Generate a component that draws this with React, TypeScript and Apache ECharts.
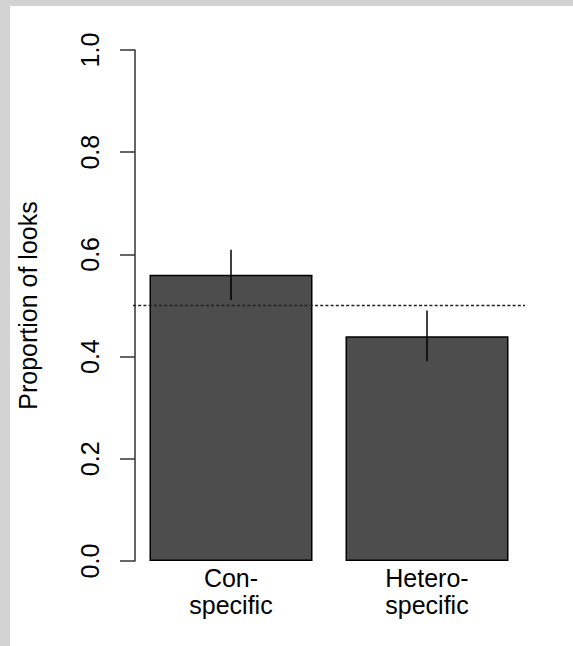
import React, { useEffect, useRef } from "react";
import * as echarts from "echarts";

const categories = ["Con-\nspecific", "Hetero-\nspecific"];
const proportions = [0.56, 0.44];
const lowerBounds = [0.511, 0.391];
const upperBounds = [0.609, 0.49];
const referenceLevel = 0.5;
const yTicks = { min: 0, max: 1, interval: 0.2 };

const FONT = "'Liberation Sans', Arial, Helvetica, sans-serif";

export default function App() {
  const ref = useRef<HTMLDivElement>(null);
  useEffect(() => {
    if (!ref.current) return;
    const chart = echarts.init(ref.current, null, { renderer: "svg" });
    chart.setOption({
      animation: false,
      backgroundColor: "transparent",
      grid: { left: 133, right: 48, top: 50, bottom: 85 },
      xAxis: {
        type: "category",
        data: categories,
        axisLine: { show: false },
        axisTick: { show: false },
        splitLine: { show: false },
        axisLabel: {
          color: "#000",
          fontSize: 25,
          fontFamily: FONT,
          lineHeight: 27,
          margin: 3,
          interval: 0,
        },
      },
      yAxis: {
        type: "value",
        min: yTicks.min,
        max: yTicks.max,
        interval: yTicks.interval,
        offset: -2,
        name: "Proportion of looks",
        nameLocation: "middle",
        nameRotate: 90,
        nameGap: 95,
        nameTextStyle: { color: "#000", fontSize: 25, fontFamily: FONT, lineHeight: 25 },
        splitLine: { show: false },
        axisLine: { show: true, lineStyle: { color: "#333", width: 1.5 } },
        axisTick: { show: true, length: 15, lineStyle: { color: "#333", width: 1.5 } },
        axisLabel: {
          rotate: 90,
          margin: 33,
          color: "#000",
          fontSize: 25,
          fontFamily: FONT,
          lineHeight: 25,
          formatter: (v: number) => v.toFixed(1),
        },
      },
      series: [
        {
          type: "bar",
          data: proportions,
          barWidth: 163,
          itemStyle: { color: "#4d4d4d", borderColor: "#000", borderWidth: 1.5 },
          z: 2,
          markLine: {
            silent: true,
            symbol: "none",
            label: { show: false },
            lineStyle: { color: "#222", width: 1.3, type: [3, 2.2] },
            data: [{ yAxis: referenceLevel }],
            z: 5,
          },
        },
        {
          type: "custom",
          data: categories.map((_, i) => [i, lowerBounds[i], upperBounds[i]]),
          encode: { x: 0, y: [1, 2] },
          z: 4,
          renderItem: (params: any, api: any) => {
            const x = api.value(0);
            const lo = api.coord([x, api.value(1)]);
            const hi = api.coord([x, api.value(2)]);
            return {
              type: "line",
              shape: { x1: lo[0], y1: lo[1], x2: hi[0], y2: hi[1] },
              style: { stroke: "#000", lineWidth: 1.5 },
            };
          },
        },
      ],
    });
    return () => chart.dispose();
  }, []);

  return (
    <div
      style={{
        position: "fixed",
        left: 0,
        top: 0,
        width: 573,
        height: 646,
        background: "#d3d3d3",
      }}
    >
      <div
        style={{
          position: "absolute",
          left: 10,
          top: 6,
          width: 563,
          height: 640,
          background: "#fff",
        }}
      />
      <div
        ref={ref}
        style={{ position: "absolute", left: 0, top: 0, width: 573, height: 646 }}
      />
    </div>
  );
}
